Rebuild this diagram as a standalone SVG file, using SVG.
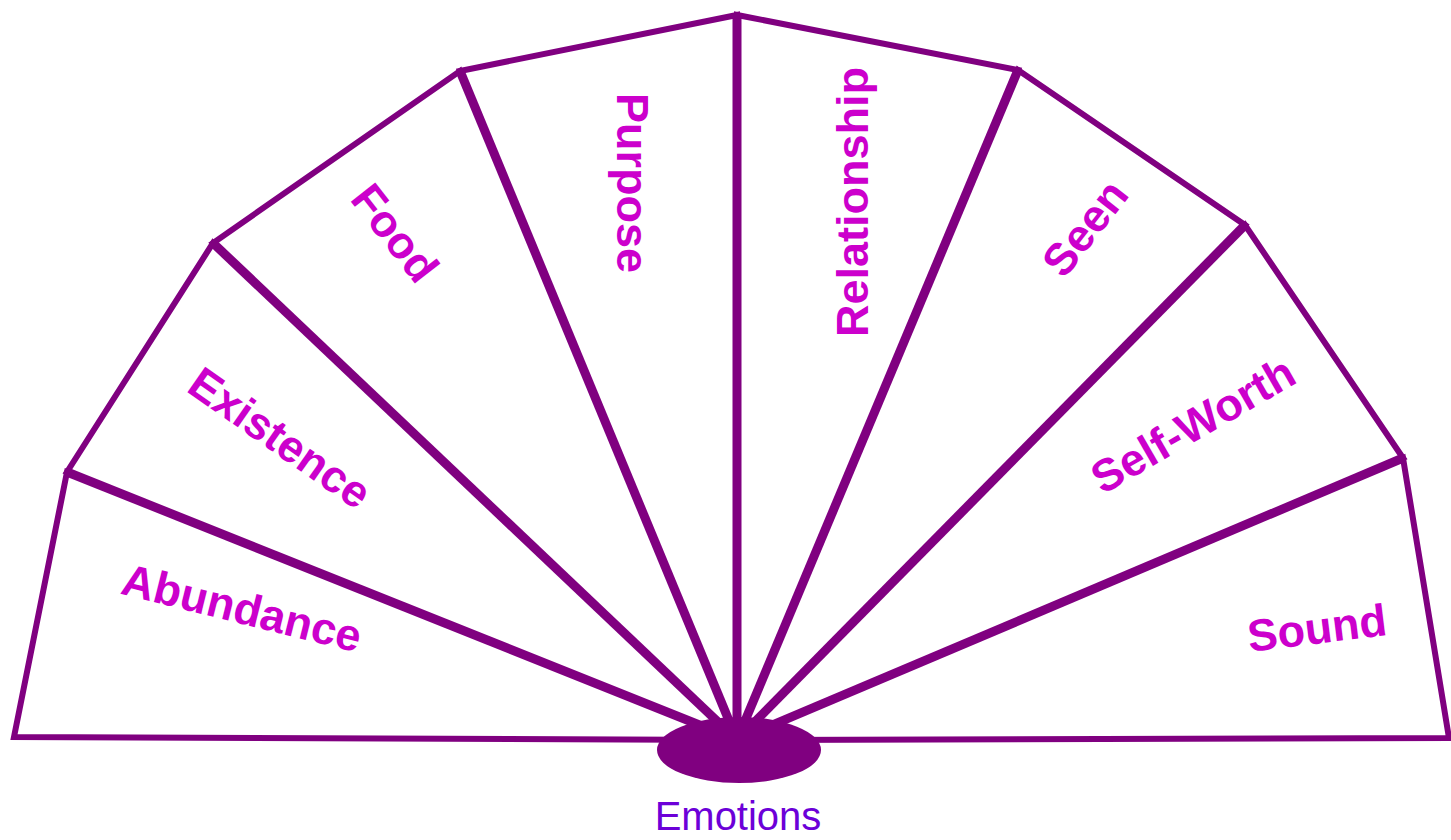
<svg xmlns="http://www.w3.org/2000/svg" width="1451" height="840" viewBox="0 0 1451 840">
<style>
.sec{fill:#fff;stroke:#800080;stroke-width:6;stroke-linejoin:miter}
.lbl{font-family:"Liberation Sans",Arial,sans-serif;font-weight:bold;font-size:45px;fill:#cc00cc;text-anchor:middle;dominant-baseline:central}
.spoke{stroke:#800080;stroke-width:9;stroke-linecap:butt}
</style>
<rect width="1451" height="840" fill="#fff"/>
<g id="sector-abundance"><polygon class="sec" points="737,740 14,737 67,472"/><text class="lbl" transform="translate(242,608) rotate(14)">Abundance</text></g>
<g id="sector-existence"><polygon class="sec" points="737,740 67,472 213,243"/><text class="lbl" transform="translate(280,438) rotate(35)">Existence</text></g>
<g id="sector-food"><polygon class="sec" points="737,740 213,243 460,71"/><text class="lbl" transform="translate(395,233) rotate(52)">Food</text></g>
<g id="sector-purpose"><polygon class="sec" points="737,740 460,71 737,15"/><text class="lbl" transform="translate(632,183) rotate(90)">Purpose</text></g>
<g id="sector-relationship"><polygon class="sec" points="737,740 737,15 1018,70"/><text class="lbl" transform="translate(852,202) rotate(-90)">Relationship</text></g>
<g id="sector-seen"><polygon class="sec" points="737,740 1018,70 1245,225"/><text class="lbl" transform="translate(1085,228) rotate(-52)">Seen</text></g>
<g id="sector-selfworth"><polygon class="sec" points="737,740 1245,225 1403,458"/><text class="lbl" transform="translate(1193,425) rotate(-30)">Self-Worth</text></g>
<g id="sector-sound"><polygon class="sec" points="737,740 1403,458 1449,738"/><text class="lbl" transform="translate(1317,628) rotate(-7)">Sound</text></g>
<g id="connectors">
<line class="spoke" x1="737" y1="740" x2="67" y2="472"/>
<line class="spoke" x1="737" y1="740" x2="213" y2="243"/>
<line class="spoke" x1="737" y1="740" x2="460" y2="71"/>
<line class="spoke" x1="737" y1="740" x2="737" y2="15"/>
<line class="spoke" x1="737" y1="740" x2="1018" y2="70"/>
<line class="spoke" x1="737" y1="740" x2="1245" y2="225"/>
<line class="spoke" x1="737" y1="740" x2="1403" y2="458"/>
</g>
<g id="hub"><ellipse cx="739" cy="750" rx="82" ry="33" fill="#800080"/><text x="738" y="830" font-family="'Liberation Sans',Arial,sans-serif" font-size="40" fill="#6c00d8" text-anchor="middle">Emotions</text></g>
</svg>
